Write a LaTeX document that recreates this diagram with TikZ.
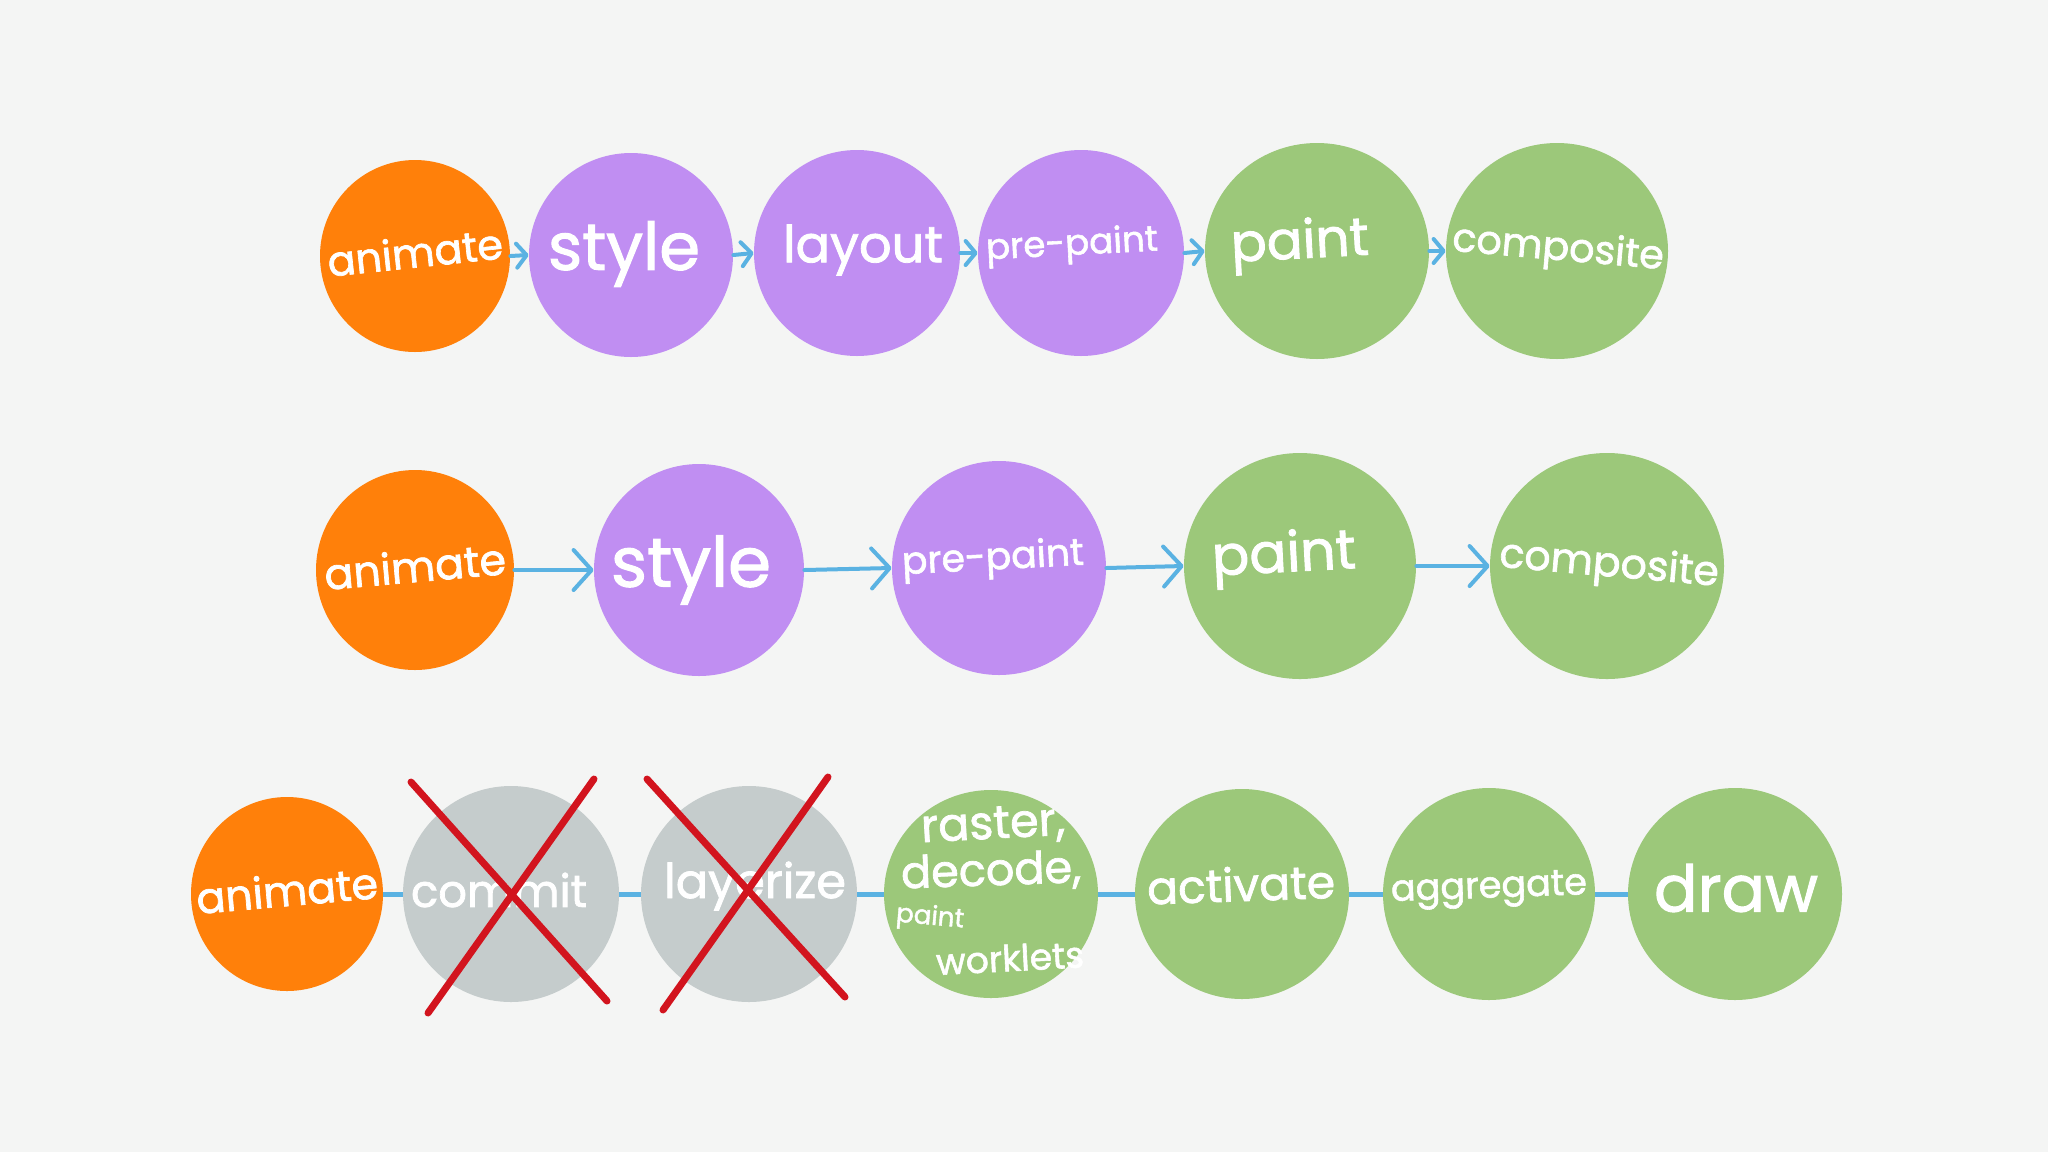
\documentclass[tikz,border=0pt]{standalone}
\usepackage{fontspec}
\setmainfont{Poppins}[FakeBold=1.6]
\usetikzlibrary{shapes.geometric,arrows.meta}
\definecolor{bgc}{RGB}{244,245,244}
\definecolor{cOr}{RGB}{255,128,10}
\definecolor{cPu}{RGB}{192,142,242}
\definecolor{cGr}{RGB}{156,200,122}
\definecolor{cGy}{RGB}{197,204,204}
\definecolor{cBl}{RGB}{90,178,226}
\definecolor{cRd}{RGB}{210,20,30}
\newcommand\hw[2]{\resizebox{#1pt}{!}{#2}}
\begin{document}
\begin{tikzpicture}[x=0.5pt,y=-0.5pt,
  bl/.style 2 args={ellipse, inner sep=0pt, draw=none, minimum width=#1pt, minimum height=#2pt},
  word/.style={text=white, inner sep=0pt},
  arrA/.style={draw=cBl, line width=2pt, line cap=round, -{Straight Barb[length=5pt,width=12pt,round]}},
  arrB/.style={draw=cBl, line width=2pt, line cap=round, -{Straight Barb[length=9pt,width=20pt,round]}},
  link/.style={draw=cBl, line width=2.5pt},
  cross/.style={draw=cRd, line width=3.5pt, line cap=round}]
\fill[bgc] (0,0) rectangle (2048,1152);
\useasboundingbox (0,0) rectangle (2048,1152);

% ---------- row 1 ----------
\node[bl={95}{96}, fill=cOr] (r1a) at (415,256) {};
\node[bl={102}{102}, fill=cPu] (r1b) at (631,255) {};
\node[bl={103}{103}, fill=cPu] (r1c) at (857,253) {};
\node[bl={103}{103}, fill=cPu] (r1d) at (1081,253) {};
\node[bl={112}{108}, fill=cGr] (r1e) at (1317,251) {};
\node[bl={111}{108}, fill=cGr] (r1f) at (1557,251) {};

\node[word, rotate=6] (t1a) at (415,252) {\hw{88}{animate}};
\node[word] (t1b) at (624,254) {\hw{76}{style}};
\node[word] (t1c) at (863,250) {\hw{80}{layout}};
\node[word, rotate=3] (t1d) at (1072,246) {\hw{86}{pre-paint}};
\node[word, rotate=3] (t1e) at (1300,245) {\hw{69}{paint}};
\node[word, rotate=-5] (t1f) at (1558,250) {\hw{106}{composite}};

\draw[arrA] (r1a.east) -- (r1b.west);
\draw[arrA] (r1b.east) -- (r1c.west);
\draw[arrA] (r1c.east) -- (r1d.west);
\draw[arrA] (r1d.east) -- (r1e.west);
\draw[arrA] (r1e.east) -- (r1f.west);

% ---------- row 2 ----------
\node[bl={99}{100}, fill=cOr] (r2a) at (415,570) {};
\node[bl={105}{106}, fill=cPu] (r2b) at (699,570) {};
\node[bl={107}{107}, fill=cPu] (r2c) at (999,568) {};
\node[bl={116}{113}, fill=cGr] (r2d) at (1300,566) {};
\node[bl={117}{113}, fill=cGr] (r2e) at (1607,566) {};

\node[word, rotate=5] (t2a) at (415,566) {\hw{91}{animate}};
\node[word] (t2b) at (691,570) {\hw{80}{style}};
\node[word, rotate=3] (t2c) at (993,560) {\hw{91}{pre-paint}};
\node[word, rotate=3] (t2d) at (1284,558) {\hw{72}{paint}};
\node[word, rotate=-5] (t2e) at (1609,566) {\hw{110}{composite}};

\draw[arrB] (r2a.east) -- (r2b.west);
\draw[arrB] (r2b.east) -- (r2c.west);
\draw[arrB] (r2c.east) -- (r2d.west);
\draw[arrB] (r2d.east) -- (r2e.west);

% ---------- row 3 ----------
\node[bl={96}{97}, fill=cOr] (r3a) at (287,894) {};
\node[bl={108}{108}, fill=cGy] (r3b) at (511,894) {};
\node[bl={108}{108}, fill=cGy] (r3c) at (749,894) {};
\node[bl={107}{104}, fill=cGr] (r3d) at (991,894) {};
\node[bl={107}{105}, fill=cGr] (r3e) at (1242,894) {};
\node[bl={106}{106}, fill=cGr] (r3f) at (1489,894) {};
\node[bl={107}{106}, fill=cGr] (r3g) at (1735,894) {};

\draw[link] (r3a.east) -- (r3b.west);
\draw[link] (r3b.east) -- (r3c.west);
\draw[link] (r3c.east) -- (r3d.west);
\draw[link] (r3d.east) -- (r3e.west);
\draw[link] (r3e.east) -- (r3f.west);
\draw[link] (r3f.east) -- (r3g.west);

\node[word, rotate=5] (t3a) at (287,890) {\hw{91}{animate}};
\node[word] (t3b) at (499,890) {\hw{88}{commit}};
\node[word] (t3c) at (755,886) {\hw{91}{layerize}};
\node[word, rotate=3] (t3d1) at (993,826) {\hw{72}{raster,}};
\node[word, rotate=2] (t3d2) at (991,872) {\hw{90}{decode,}};
\node[word, rotate=-5] (t3d3) at (930,918) {\hw{34}{paint}};
\node[word, rotate=3] (t3d4) at (1010,958) {\hw{74}{worklets}};
\node[word, rotate=2] (t3e) at (1241,884) {\hw{94}{activate}};
\node[word, rotate=2] (t3f) at (1489,890) {\hw{98}{aggregate}};
\node[word] (t3g) at (1736,888) {\hw{82}{draw}};

\draw[cross] ([shift={(-100,-112)}]r3b.center) -- ([shift={(96,107)}]r3b.center);
\draw[cross] ([shift={(83,-115)}]r3b.center) -- ([shift={(-83,119)}]r3b.center);
\draw[cross] ([shift={(-102,-115)}]r3c.center) -- ([shift={(96,103)}]r3c.center);
\draw[cross] ([shift={(79,-117)}]r3c.center) -- ([shift={(-86,116)}]r3c.center);
\end{tikzpicture}
\end{document}
